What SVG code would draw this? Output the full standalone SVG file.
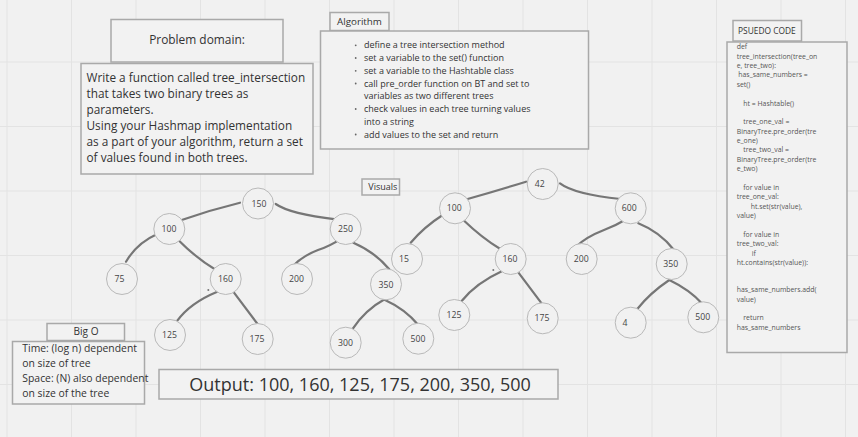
<svg xmlns="http://www.w3.org/2000/svg" width="858" height="437" viewBox="0 0 858 437">
<defs>
<style>
.bg{fill:#f1f1f1}
.grid line{stroke:#e3e3e3;stroke-width:1}
.box{fill:#f2f2f2;stroke:#a9a9a9;stroke-width:1.5}
.t{font-family:"Open Sans","DejaVu Sans",sans-serif;fill:#333}
.code{font-family:"Open Sans","DejaVu Sans",sans-serif;fill:#555;font-size:6.9px}
.node circle{fill:#f1f1f1;stroke:#b9b9b9;stroke-width:1}
.node text{font-family:"Open Sans","DejaVu Sans",sans-serif;font-size:8.7px;fill:#444;text-anchor:middle}
.edges path{fill:none;stroke:#767676;stroke-width:2.2;stroke-linecap:round}
.bul{fill:#666}
</style>
</defs>
<rect class="bg" x="0" y="0" width="858" height="437"/>
<g class="grid">
<line x1="7" y1="0" x2="7" y2="437"/><line x1="71.5" y1="0" x2="71.5" y2="437"/><line x1="136" y1="0" x2="136" y2="437"/><line x1="200.5" y1="0" x2="200.5" y2="437"/><line x1="265" y1="0" x2="265" y2="437"/><line x1="329.5" y1="0" x2="329.5" y2="437"/><line x1="394" y1="0" x2="394" y2="437"/><line x1="458.5" y1="0" x2="458.5" y2="437"/><line x1="523" y1="0" x2="523" y2="437"/><line x1="587.5" y1="0" x2="587.5" y2="437"/><line x1="652" y1="0" x2="652" y2="437"/><line x1="716.5" y1="0" x2="716.5" y2="437"/><line x1="781" y1="0" x2="781" y2="437"/><line x1="845.5" y1="0" x2="845.5" y2="437"/>
<line x1="0" y1="62" x2="858" y2="62"/><line x1="0" y1="126.5" x2="858" y2="126.5"/><line x1="0" y1="191" x2="858" y2="191"/><line x1="0" y1="255.5" x2="858" y2="255.5"/><line x1="0" y1="320" x2="858" y2="320"/><line x1="0" y1="384.5" x2="858" y2="384.5"/>
</g>

<g id="problem-domain-header">
<rect class="box" x="111" y="19.5" width="172" height="42.5"/>
<text class="t" x="197" y="44" font-size="11.9" text-anchor="middle">Problem domain:</text>
</g>
<g id="problem-domain-body">
<rect class="box" x="81" y="63.5" width="232" height="110.5"/>
<text class="t" font-size="11.8">
<tspan x="86.5" y="81.7">Write a function called tree_intersection</tspan>
<tspan x="86.5" y="97.7">that takes two binary trees as</tspan>
<tspan x="86.5" y="113.7">parameters.</tspan>
<tspan x="86.5" y="129.7">Using your Hashmap implementation</tspan>
<tspan x="86.5" y="145.7">as a part of your algorithm, return a set</tspan>
<tspan x="86.5" y="161.7">of values found in both trees.</tspan>
</text>
</g>

<g id="algorithm-header">
<rect class="box" x="330" y="12.5" width="59" height="18"/>
<text class="t" x="337" y="24.5" font-size="9.8">Algorithm</text>
</g>
<g id="algorithm-body">
<rect class="box" x="320.5" y="31" width="268" height="118"/>
<g class="bul">
<circle cx="355.7" cy="45.3" r="0.9"/><circle cx="355.7" cy="58" r="0.9"/><circle cx="355.7" cy="70.8" r="0.9"/><circle cx="355.7" cy="83.5" r="0.9"/><circle cx="355.7" cy="109" r="0.9"/><circle cx="355.7" cy="134.5" r="0.9"/>
</g>
<text class="t" font-size="9" fill="#444">
<tspan x="364" y="48.3">define a tree intersection method</tspan>
<tspan x="364" y="61">set a variable to the set() function</tspan>
<tspan x="364" y="73.8">set a variable to the Hashtable class</tspan>
<tspan x="364" y="86.5">call pre_order function on BT and set to</tspan>
<tspan x="364" y="99.3">variables as two different trees</tspan>
<tspan x="364" y="112">check values in each tree turning values</tspan>
<tspan x="364" y="124.8">into a string</tspan>
<tspan x="364" y="137.5">add values to the set and return</tspan>
</text>
</g>

<g id="pseudo-code-header">
<rect class="box" x="733" y="20.5" width="68.5" height="20.5"/>
<text class="t" x="738" y="33.7" font-size="8.4">PSUEDO CODE</text>
</g>
<g id="pseudo-code-body">
<rect class="box" x="727" y="42" width="120" height="310.5"/>
<text class="code">
<tspan x="736.7" y="49.2">def</tspan>
<tspan x="736.7" y="58.6">tree_intersection(tree_on</tspan>
<tspan x="736.7" y="68">e, tree_two):</tspan>
<tspan x="738.3" y="77.3">has_same_numbers =</tspan>
<tspan x="736.7" y="86.7">set()</tspan>
<tspan x="743.3" y="105.5">ht = Hashtable()</tspan>
<tspan x="743.3" y="124.2">tree_one_val =</tspan>
<tspan x="736.7" y="133.6">BinaryTree.pre_order(tre</tspan>
<tspan x="736.7" y="143">e_one)</tspan>
<tspan x="743.3" y="152.4">tree_two_val =</tspan>
<tspan x="736.7" y="161.8">BinaryTree.pre_order(tre</tspan>
<tspan x="736.7" y="171.1">e_two)</tspan>
<tspan x="743.3" y="189.9">for value in</tspan>
<tspan x="736.7" y="199.3">tree_one_val:</tspan>
<tspan x="750.7" y="208.7">ht.set(str(value),</tspan>
<tspan x="736.7" y="218">value)</tspan>
<tspan x="743.3" y="236.8">for value in</tspan>
<tspan x="736.7" y="246.2">tree_two_val:</tspan>
<tspan x="751.7" y="255.6">if</tspan>
<tspan x="736.7" y="264.9">ht.contains(str(value)):</tspan>
<tspan x="736.7" y="292.3">has_same_numbers.add(</tspan>
<tspan x="736.7" y="301.7">value)</tspan>
<tspan x="743.3" y="320.1">return</tspan>
<tspan x="736.7" y="329.5">has_same_numbers</tspan>
</text>
</g>

<g id="visuals-label">
<rect class="box" x="362" y="179" width="37.5" height="16"/>
<text class="t" x="368.3" y="190" font-size="9">Visuals</text>
</g>

<g id="big-o-header">
<rect class="box" x="47" y="323.5" width="77.5" height="17"/>
<text class="t" x="86" y="334.6" font-size="10.1" text-anchor="middle">Big O</text>
</g>
<g id="big-o-body">
<rect class="box" x="12.5" y="341.5" width="132" height="62.5"/>
<text class="t" font-size="10.4">
<tspan x="22.3" y="352">Time: (log n) dependent</tspan>
<tspan x="22.3" y="367">on size of tree</tspan>
<tspan x="22.3" y="382">Space: (N) also dependent</tspan>
<tspan x="22.3" y="396.5">on size of the tree</tspan>
</text>
</g>

<g id="output">
<rect class="box" x="159" y="369.5" width="399" height="29.5"/>
<text class="t" x="189.3" y="390.8" font-size="18">Output: 100, 160, 125, 175, 200, 350, 500</text>
</g>

<g class="edges" id="connectors">
<path d="M240,202.7 Q210,210 181.7,220"/>
<path d="M275.7,204 Q290,214 336,219.3"/>
<path d="M157.3,234 Q137,243 126,261.7"/>
<path d="M178.3,240 Q196,258 216,270"/>
<path d="M217.3,291.7 Q190,303 177.3,320.7"/>
<path d="M234,292.7 L258.3,325"/>
<path d="M341.7,238.3 Q330,246 318,250 Q302,256 291.7,267.3"/>
<path d="M353.3,242.7 Q375,252 389.3,269.3"/>
<path d="M385,299 Q365,310 352.3,329.3"/>
<path d="M385,300 Q405,309 418.3,325"/>
<path d="M526,181.7 Q496,191 466.7,199.3"/>
<path d="M560,183.3 Q574,194 620.7,199"/>
<path d="M442.7,215 Q424,227 410.7,242.7"/>
<path d="M463.3,220 Q482,238 500.7,249.3"/>
<path d="M502.3,271 Q476,283 461.7,301"/>
<path d="M518.3,272.3 L543.3,305.7"/>
<path d="M626.7,219 Q615,226 604,230 Q586,237 576,246.7"/>
<path d="M638.3,223.3 Q660,232 674,250"/>
<path d="M669.3,280 Q650,293 637.3,309"/>
<path d="M669.3,280 Q690,290 701.7,303.3"/>
</g>
<g fill="#777"><circle cx="208.3" cy="290" r="1"/><circle cx="493.3" cy="270" r="1"/></g>

<g class="node" id="t1-150"><circle cx="258" cy="203.5" r="15.5"/><text x="259" y="207">150</text></g>
<g class="node" id="t1-100"><circle cx="169.3" cy="229" r="15.5"/><text x="169" y="232.1">100</text></g>
<g class="node" id="t1-250"><circle cx="345.7" cy="229" r="15.5"/><text x="345.5" y="232.1">250</text></g>
<g class="node" id="t1-75"><circle cx="122" cy="279" r="15.5"/><text x="119.5" y="282.1">75</text></g>
<g class="node" id="t1-160"><circle cx="225.7" cy="279" r="15.5"/><text x="225.5" y="282.1">160</text></g>
<g class="node" id="t1-200"><circle cx="297" cy="279" r="15.5"/><text x="296.5" y="282.1">200</text></g>
<g class="node" id="t1-350"><circle cx="386" cy="284.3" r="15.5"/><text x="386" y="287.5">350</text></g>
<g class="node" id="t1-125"><circle cx="170" cy="335" r="15.5"/><text x="169.5" y="338.1">125</text></g>
<g class="node" id="t1-175"><circle cx="257.7" cy="339" r="15.5"/><text x="257" y="342.1">175</text></g>
<g class="node" id="t1-300"><circle cx="345.7" cy="342.7" r="15.5"/><text x="345.5" y="345.8">300</text></g>
<g class="node" id="t1-500"><circle cx="418.3" cy="338.7" r="15.5"/><text x="418" y="341.8">500</text></g>

<g class="node" id="t2-42"><circle cx="542.7" cy="184" r="15.5"/><text x="539.7" y="187.1">42</text></g>
<g class="node" id="t2-100"><circle cx="455" cy="208.3" r="15.5"/><text x="454.3" y="211.4">100</text></g>
<g class="node" id="t2-600"><circle cx="630.7" cy="208.3" r="15.5"/><text x="629.3" y="211.4">600</text></g>
<g class="node" id="t2-15"><circle cx="407" cy="259" r="15.5"/><text x="404" y="262.1">15</text></g>
<g class="node" id="t2-160"><circle cx="510.7" cy="259" r="15.5"/><text x="510" y="262.1">160</text></g>
<g class="node" id="t2-200"><circle cx="581.7" cy="259" r="15.5"/><text x="581.3" y="262.1">200</text></g>
<g class="node" id="t2-350"><circle cx="671.7" cy="264" r="15.5"/><text x="670.7" y="267.1">350</text></g>
<g class="node" id="t2-125"><circle cx="454.3" cy="315" r="15.5"/><text x="454" y="318.1">125</text></g>
<g class="node" id="t2-175"><circle cx="542.7" cy="318.3" r="15.5"/><text x="542" y="321.4">175</text></g>
<g class="node" id="t2-4"><circle cx="630.7" cy="322.7" r="15.5"/><text x="625" y="325.8">4</text></g>
<g class="node" id="t2-500"><circle cx="703.3" cy="317.3" r="15.5"/><text x="702.7" y="320.4">500</text></g>
</svg>
